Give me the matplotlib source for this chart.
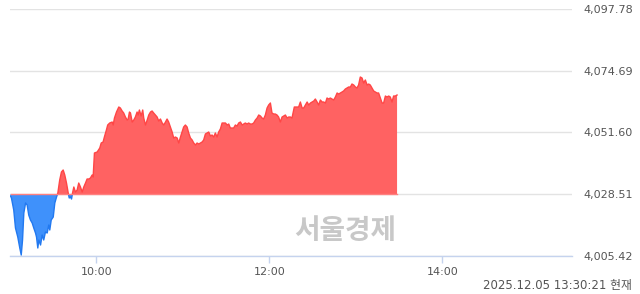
import numpy as np
import matplotlib.pyplot as plt
from matplotlib.patches import Rectangle

# --- data (minutes after 09:00, index value) ---
prev_close = 4028.51

minutes = [0.4, 1.0, 2.6, 3.8, 5.4, 6.8, 7.8, 8.7, 9.6, 10.8, 11.9, 13.0, 14.2, 15.4, 16.5,
           17.7, 18.4, 19.3, 20.0, 21.2, 22.3, 23.4, 24.6, 25.8, 26.9, 27.6, 28.6, 30.0, 31.1,
           32.3, 33.2, 34.5, 35.7, 36.9, 38.0, 39.2, 40.4, 41.1, 42.0, 42.7, 43.4, 44.3, 45.4,
           46.6, 47.7, 48.9, 50.1, 51.2, 52.4, 53.5, 54.7, 55.8, 57.0, 57.7, 58.6, 60.5, 62.3,
           63.3, 64.6, 65.5, 66.9, 67.8, 69.2, 70.9, 71.6, 72.5, 73.9, 75.5, 76.6, 77.8, 78.9,
           80.1, 81.3, 82.0, 82.9, 83.6, 84.8, 85.9, 87.0, 88.2, 88.9, 89.8, 91.0, 92.1, 92.8,
           94.0, 95.2, 96.3, 97.5, 98.6, 99.7, 100.9, 102.1, 103.2, 104.4, 105.6, 106.7, 107.9,
           109.0, 110.1, 111.3, 112.5, 113.6, 114.8, 116.0, 117.1, 118.3, 119.4, 120.5, 121.7,
           122.9, 124.0, 125.2, 126.4, 127.5, 128.7, 129.8, 131.0, 133.3, 134.4, 135.6, 136.8,
           137.9, 139.1, 140.2, 141.4, 142.5, 143.7, 144.8, 146.0, 147.2, 148.3, 149.5, 150.7,
           151.8, 152.9, 154.1, 155.2, 156.4, 157.6, 158.7, 159.9, 161.1, 162.2, 163.3, 164.5,
           165.6, 166.8, 168.0, 169.1, 170.3, 171.5, 172.6, 173.8, 174.9, 176.0, 177.2, 178.4,
           179.5, 180.7, 181.8, 183.0, 184.1, 185.3, 186.4, 187.6, 188.8, 189.9, 191.1, 192.3,
           193.4, 194.6, 195.7, 197.3, 199.2, 200.3, 201.5, 202.7, 203.8, 205.0, 206.2, 207.3,
           208.5, 209.6, 210.8, 211.9, 213.1, 214.2, 215.4, 216.6, 217.7, 218.9, 220.0, 221.1,
           222.3, 223.5, 224.6, 225.8, 227.0, 228.1, 229.2, 230.4, 231.5, 232.7, 233.9, 235.0,
           236.2, 237.3, 238.5, 239.7, 240.8, 241.9, 243.1, 244.3, 245.4, 246.6, 247.8, 248.9,
           250.0, 251.2, 252.4, 253.5, 254.7, 255.8, 257.0, 258.2, 259.3, 260.5, 261.6, 262.8,
           263.9, 265.1, 266.2, 267.4, 268.6]

values = [4027.85, 4027.11, 4022.62, 4015.89, 4012.52, 4008.41, 4005.79, 4011.40, 4021.50,
          4025.24, 4024.49, 4020.75, 4018.88, 4017.76, 4015.89, 4014.02, 4012.52, 4008.41,
          4011.40, 4009.53, 4013.27, 4011.40, 4014.39, 4014.02, 4017.01, 4015.14, 4018.88,
          4020.00, 4025.24, 4027.48, 4028.98, 4033.84, 4036.83, 4037.58, 4035.71, 4032.71,
          4028.98, 4027.11, 4027.48, 4026.73, 4028.98, 4031.22, 4029.35, 4030.10, 4032.71,
          4031.22, 4029.35, 4031.22, 4032.71, 4034.21, 4034.21, 4034.58, 4035.71, 4034.96,
          4043.93, 4044.31, 4045.80, 4047.67, 4048.04, 4049.91, 4052.53, 4054.40, 4055.15,
          4055.52, 4054.40, 4057.02, 4059.26, 4061.13, 4060.76, 4059.64, 4058.89, 4057.39,
          4056.27, 4056.64, 4059.26, 4058.89, 4055.52, 4056.27, 4057.39, 4059.26, 4058.14,
          4060.01, 4057.77, 4060.01, 4057.02, 4054.40, 4056.27, 4058.14, 4059.26, 4059.64,
          4058.89, 4058.14, 4057.39, 4055.90, 4056.64, 4055.15, 4054.40, 4055.52, 4056.64,
          4055.52, 4053.65, 4051.78, 4049.54, 4049.91, 4049.54, 4047.67, 4049.91, 4051.78,
          4053.65, 4054.40, 4053.65, 4051.41, 4049.54, 4048.79, 4047.67, 4046.92, 4047.67,
          4047.30, 4048.04, 4048.79, 4051.04, 4051.41, 4051.78, 4050.29, 4050.66, 4049.91,
          4051.41, 4049.91, 4051.78, 4052.91, 4055.15, 4055.15, 4055.15, 4054.40, 4054.77,
          4053.28, 4053.28, 4053.28, 4054.40, 4054.03, 4055.15, 4055.52, 4054.40, 4054.77,
          4055.15, 4054.77, 4055.15, 4054.77, 4054.77, 4055.15, 4056.27, 4057.02, 4058.14,
          4057.77, 4057.02, 4056.64, 4058.14, 4060.76, 4061.88, 4062.63, 4058.89, 4058.51,
          4058.51, 4058.14, 4057.39, 4055.52, 4057.39, 4057.77, 4058.14, 4057.02, 4057.39,
          4057.39, 4057.02, 4061.13, 4061.13, 4061.13, 4063.00, 4060.76, 4060.76, 4061.88,
          4063.00, 4061.88, 4062.63, 4063.00, 4063.37, 4064.12, 4063.00, 4061.88, 4063.75,
          4063.00, 4063.00, 4062.63, 4064.50, 4064.12, 4064.50, 4064.12, 4063.75, 4064.87,
          4066.37, 4065.99, 4066.37, 4066.74, 4067.11, 4067.86, 4068.24, 4068.61, 4068.61,
          4069.73, 4069.36, 4068.61, 4068.24, 4069.36, 4072.35, 4071.97, 4070.10, 4071.23,
          4069.36, 4069.73, 4069.36, 4068.24, 4067.11, 4066.74, 4066.37, 4066.37, 4064.50,
          4062.63, 4062.63, 4065.24, 4064.87, 4065.24, 4064.87, 4063.00, 4065.24, 4065.24,
          4065.62]

y_ticks = [4005.42, 4028.51, 4051.60, 4074.69, 4097.78]
x_ticks = [60, 180, 300]
x_tick_labels = ['10:00', '12:00', '14:00']
stamp = '2025.12.05 13:30:21 현재'
watermark = '서울경제'

t = np.array(minutes)
v = np.array(values)

red_fill = '#ff6262'
red_line = '#ff4646'
blue_fill = '#3f91fb'
blue_line = '#2279f0'
axis_blue = '#c5d3ee'

fig = plt.figure(figsize=(6.4, 2.94), dpi=100)
ax = fig.add_axes([10 / 640, 1 - 256 / 294, 562 / 640, 247 / 294])

# watermark
ax.text(0.596, 0.1, watermark, transform=ax.transAxes, ha='center', va='center',
        fontsize=20, fontweight='bold', color='#c8c8c8',
        family=['Noto Sans CJK KR', 'DejaVu Sans'], zorder=0)

# filled areas above / below previous close
ax.fill_between(t, v, prev_close, where=v >= prev_close, interpolate=True,
                color=red_fill, linewidth=0, zorder=2)
ax.fill_between(t, v, prev_close, where=v <= prev_close, interpolate=True,
                color=blue_fill, linewidth=0, zorder=2)

# outline, red above and blue below the base
ln_up, = ax.plot(t, v, color=red_line, linewidth=1.0, zorder=3)
ln_dn, = ax.plot(t, v, color=blue_line, linewidth=1.0, zorder=3)
ln_up.set_clip_path(Rectangle((0, prev_close), 400, 200, transform=ax.transData))
ln_dn.set_clip_path(Rectangle((0, prev_close - 200), 400, 200, transform=ax.transData))
ax.plot([t[0], t[-1]], [prev_close, prev_close], color='#ff8080', linewidth=1.0, zorder=3)

ax.set_xlim(0, 390)
ax.set_ylim(y_ticks[0], y_ticks[-1])

# grid and axes
ax.set_yticks(y_ticks)
ax.set_yticklabels([f'{y:,.2f}' for y in y_ticks])
ax.yaxis.tick_right()
ax.tick_params(axis='y', length=0, pad=8, labelsize=8, labelcolor='#555555')
ax.grid(axis='y', color='#e3e3e3', linewidth=1.0, zorder=1)
ax.set_axisbelow(True)

ax.set_xticks(x_ticks)
ax.set_xticklabels(x_tick_labels)
ax.tick_params(axis='x', length=5, width=1, color=axis_blue, pad=3,
               labelsize=8, labelcolor='#555555')

for s in ['top', 'left', 'right']:
    ax.spines[s].set_visible(False)
ax.spines['bottom'].set_color(axis_blue)
ax.spines['bottom'].set_linewidth(1.0)

fig.text(632 / 640, 1 - 285 / 294, stamp, ha='right', va='center', fontsize=8.5,
         color='#555555', family=['DejaVu Sans', 'Noto Sans CJK KR'])

plt.savefig('out.png', dpi=100, facecolor='white')
